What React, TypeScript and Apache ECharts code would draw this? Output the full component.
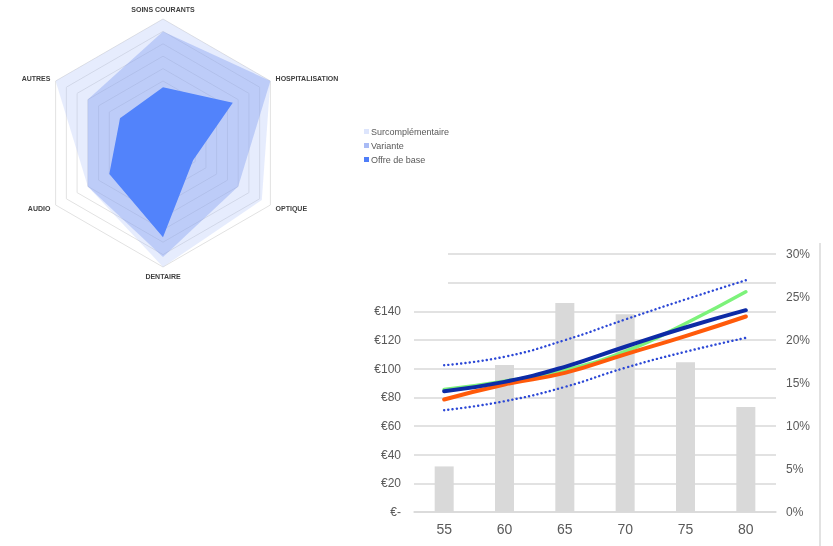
import React, { useEffect, useRef } from "react";
import * as echarts from "echarts";

// Radar data (share of max)
const radarAxes = ["SOINS COURANTS", "AUTRES", "AUDIO", "DENTAIRE", "OPTIQUE", "HOSPITALISATION"];
const surcomplementaire = [1.0, 1.0, 0.7, 1.0, 0.92, 1.0];
const variante = [0.9, 0.7, 0.7, 0.92, 0.7, 1.0];
const offreDeBase = [0.45, 0.4, 0.5, 0.76, 0.28, 0.65];
const radarNames = ["Surcomplémentaire", "Variante", "Offre de base"];

// Bottom chart data
const ages = ["55", "60", "65", "70", "75", "80"];
const barShare = [0.053, 0.171, 0.243, 0.23, 0.174, 0.122];
const greenLine = [85.5, 91.3, 99, 112, 131.5, 153.6];
const blueLine = [84.3, 90.8, 101.3, 115.3, 128.7, 140.8];
const orangeLine = [78.5, 89, 97.1, 110, 122.7, 136.4];
const upperBound = [102.4, 108.3, 119.9, 134.3, 148.3, 161.7];
const lowerBound = [71, 77.3, 87.3, 100.6, 111.8, 121.5];

const FONT = "Liberation Sans, Arial, sans-serif";

export default function App() {
  const ref = useRef<HTMLDivElement>(null);
  useEffect(() => {
    if (!ref.current) return;
    const chart = echarts.init(ref.current, undefined, { renderer: "svg" });
    const lineSeries = (data: number[], color: string, width: number, type: any, z: number) => ({
      type: "line",
      xAxisIndex: 0,
      yAxisIndex: 0,
      data,
      smooth: true,
      symbol: "none",
      z,
      lineStyle: { color, width, type, cap: "round" },
    });
    chart.setOption({
      animation: false,
      textStyle: { fontFamily: FONT },
      legend: {
        orient: "vertical",
        left: 359,
        top: 122,
        itemWidth: 5,
        itemHeight: 5,
        itemGap: 5,
        icon: "rect",
        textStyle: { fontSize: 9, color: "#595959", fontFamily: FONT, padding: [0, 0, 0, -3] },
        data: radarNames,
      },
      radar: {
        center: [163, 143],
        radius: 124,
        splitNumber: 10,
        shape: "polygon",
        indicator: radarAxes.map((n) => ({ name: n, max: 1, min: 0 })),
        axisName: { color: "#404040", fontSize: 7, fontWeight: "bold", fontFamily: FONT },
        nameGap: 6,
        axisLine: { show: false },
        splitArea: { show: false },
        splitLine: { lineStyle: { color: "#e2e2e2", width: 1 } },
      },
      grid: { left: 414, top: 254, width: 362, height: 258 },
      xAxis: {
        type: "category",
        data: ages,
        axisTick: { show: false },
        axisLine: { lineStyle: { color: "#d9d9d9", width: 1.5 } },
        axisLabel: { color: "#595959", fontSize: 14, margin: 10, fontFamily: FONT },
      },
      yAxis: [
        {
          type: "value",
          min: 0,
          max: 180,
          interval: 20,
          axisLine: { show: false },
          axisTick: { show: false },
          splitLine: { lineStyle: { color: "#d9d9d9", width: 1.5 } },
          axisLabel: {
            color: "#595959",
            fontSize: 12,
            margin: 13,
            fontFamily: FONT,
            formatter: (v: number) => (v === 0 ? "€-" : v > 140 ? "" : "€" + v),
          },
        },
        {
          type: "value",
          min: 0,
          max: 0.3,
          interval: 0.05,
          position: "right",
          axisLine: { show: false },
          axisTick: { show: false },
          splitLine: { show: false },
          axisLabel: {
            color: "#595959",
            fontSize: 12,
            margin: 10,
            fontFamily: FONT,
            formatter: (v: number) => Math.round(v * 100) + "%",
          },
        },
      ],
      graphic: [
        { type: "rect", shape: { x: 408, y: 248, width: 40, height: 40 }, style: { fill: "#ffffff" }, z: 10 },
        { type: "line", shape: { x1: 820, y1: 243, x2: 820, y2: 546 }, style: { stroke: "#d9d9d9", lineWidth: 1.5 } },
      ],
      series: [
        {
          type: "radar",
          symbol: "none",
          data: [
            {
              name: radarNames[0],
              value: surcomplementaire,
              itemStyle: { color: "#dde5fc" },
              lineStyle: { width: 0 },
              areaStyle: { color: "rgba(170,190,248,0.42)" },
            },
            {
              name: radarNames[1],
              value: variante,
              itemStyle: { color: "#a9bbf5" },
              lineStyle: { width: 0 },
              areaStyle: { color: "rgba(126,153,239,0.55)" },
            },
            {
              name: radarNames[2],
              value: offreDeBase,
              itemStyle: { color: "#4f7ef8" },
              lineStyle: { width: 0 },
              areaStyle: { color: "#5283fb", opacity: 1 },
            },
          ],
        },
        {
          type: "bar",
          xAxisIndex: 0,
          yAxisIndex: 1,
          data: barShare,
          barWidth: 19,
          itemStyle: { color: "#d9d9d9" },
          z: 1,
        },
        lineSeries(upperBound, "#2c48d6", 2.4, [0.1, 4.2], 3),
        lineSeries(lowerBound, "#2c48d6", 2.4, [0.1, 4.2], 3),
        lineSeries(greenLine, "#7cf27a", 3.5, "solid", 4),
        lineSeries(orangeLine, "#ff5a0a", 4, "solid", 5),
        lineSeries(blueLine, "#0d2ba6", 4, "solid", 6),
      ],
    });
    return () => chart.dispose();
  }, []);
  return <div ref={ref} style={{ position: "fixed", left: 0, top: 0, width: 833, height: 546 }} />;
}
